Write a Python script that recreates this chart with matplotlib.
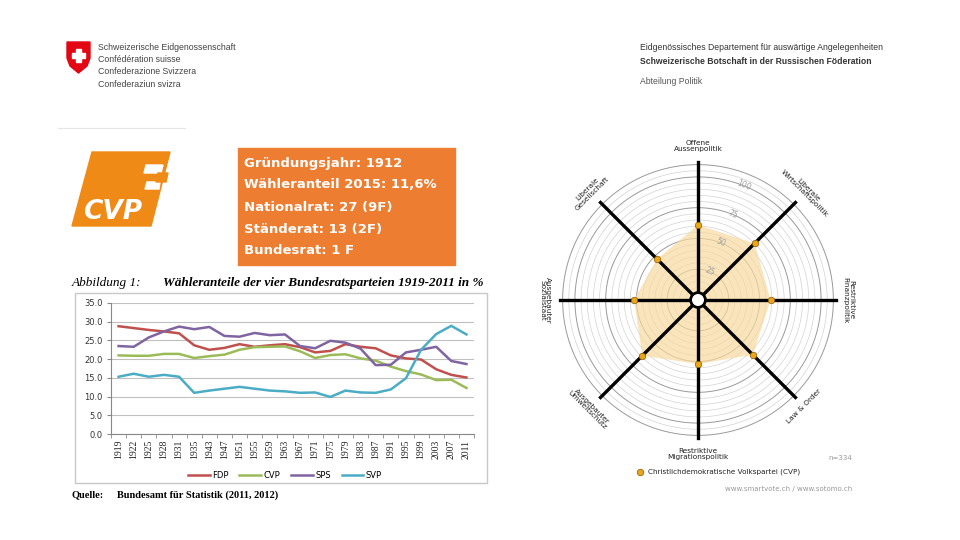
import numpy as np
import matplotlib
matplotlib.use("Agg")
import matplotlib.pyplot as plt
from matplotlib.patches import Polygon, Rectangle, Circle

# --- Daten: Wähleranteile 1919-2011 (%) ---
jahre = ["1919", "1922", "1925", "1928", "1931", "1935", "1943", "1947", "1951", "1955",
         "1959", "1963", "1967", "1971", "1975", "1979", "1983", "1987", "1991", "1995",
         "1999", "2003", "2007", "2011"]
fdp = [28.8, 28.3, 27.8, 27.4, 26.9, 23.7, 22.5, 23.0, 24.0, 23.3, 23.7, 24.0,
       23.2, 21.8, 22.2, 24.0, 23.3, 22.9, 21.0, 20.2, 19.9, 17.3, 15.8, 15.1]
cvp = [21.0, 20.9, 20.9, 21.4, 21.4, 20.3, 20.8, 21.2, 22.5, 23.2, 23.3, 23.4,
       22.1, 20.3, 21.1, 21.3, 20.2, 19.6, 18.0, 16.8, 15.9, 14.4, 14.5, 12.3]
sps = [23.5, 23.3, 25.8, 27.4, 28.7, 28.0, 28.6, 26.2, 26.0, 27.0, 26.4, 26.6,
       23.5, 22.9, 24.9, 24.4, 22.8, 18.4, 18.5, 21.8, 22.5, 23.3, 19.5, 18.7]
svp = [15.3, 16.1, 15.3, 15.8, 15.3, 11.0, 11.6, 12.1, 12.6, 12.1, 11.6, 11.4,
       11.0, 11.1, 9.9, 11.6, 11.1, 11.0, 11.9, 14.9, 22.5, 26.7, 28.9, 26.6]
parteien = ["FDP", "CVP", "SPS", "SVP"]
farben = ["#C0504D", "#9BBB59", "#8064A2", "#4BACC6"]

# --- Daten: smartspider CVP ---
achsen = ["Offene\nAussenpolitik", "Liberale\nWirtschaftspolitik", "Restriktive\nFinanzpolitik",
          "Law & Order", "Restriktive\nMigrationspolitik", "Ausgebauter\nUmweltschutz",
          "Ausgebauter\nSozialstaat", "Liberale\nGesellschaft"]
cvp_spider = [61, 65, 59, 63, 52, 64, 52, 47]

# --- Infobox ---
info = ["Gründungsjahr: 1912", "Wähleranteil 2015: 11,6%", "Nationalrat: 27 (9F)",
        "Ständerat: 13 (2F)", "Bundesrat: 1 F"]

W, H = 960, 540
fig = plt.figure(figsize=(9.6, 5.4), dpi=100)
fig.patch.set_facecolor("white")

def fx(x):
    return x / W

def fy(y):
    return 1 - y / H

# Hintergrund-Achse in Pixelkoordinaten
bg = fig.add_axes([0, 0, 1, 1])
bg.set_xlim(0, W)
bg.set_ylim(H, 0)
bg.axis("off")

# Schweizer Wappen
schild = [(67, 42), (90, 42), (90, 58), (87, 66), (78.5, 73), (70, 66), (67, 58)]
bg.add_patch(Polygon(schild, closed=True, color="#E30613"))
bg.add_patch(Rectangle((76.3, 49), 4.4, 13, color="white"))
bg.add_patch(Rectangle((72, 53.3), 13, 4.4, color="white"))
kopf = ["Schweizerische Eidgenossenschaft", "Confédération suisse",
        "Confederazione Svizzera", "Confederaziun svizra"]
for i, t in enumerate(kopf):
    bg.text(98, 47 + i * 12.4, t, fontsize=6.3, family="Liberation Sans",
            color="#444444", va="center")

bg.text(640, 47, "Eidgenössisches Departement für auswärtige Angelegenheiten",
        fontsize=6.2, family="Liberation Sans", color="#333333", va="center")
bg.text(640, 61, "Schweizerische Botschaft in der Russischen Föderation",
        fontsize=6.2, family="Liberation Sans", weight="bold", color="#333333", va="center")
bg.text(640, 81, "Abteilung Politik", fontsize=6.2, family="Liberation Sans",
        color="#555555", va="center")
bg.plot([58, 185], [128, 128], color="#e6e6e6", lw=0.8)

# CVP Logo
orange = "#EF8A17"
bg.add_patch(Polygon([(72, 226), (92, 152), (170, 152), (151, 226)], closed=True, color=orange))
bg.add_patch(Polygon([(146, 165), (163, 165), (161, 173), (144, 173)], closed=True, color="white"))
bg.add_patch(Polygon([(147, 182), (160, 182), (159, 189), (145, 189)], closed=True, color="white"))
bg.add_patch(Polygon([(158, 173), (168, 173), (166, 182), (156, 182)], closed=True, color=orange))
bg.text(113, 212, "CVP", color="white", fontsize=19, weight="bold", style="italic",
        ha="center", va="center", family="DejaVu Sans")

# Infobox
bg.add_patch(Rectangle((238, 148), 217, 117, color="#ED7D31"))
for i, t in enumerate(info):
    bg.text(244, 163 + i * 22, t, color="white", fontsize=9.5, weight="bold",
            family="DejaVu Sans", va="center")

# --- Liniendiagramm ---
bg.add_patch(Rectangle((75, 293), 412, 190, fill=False, ec="#c8c8c8", lw=1))
bg.text(72, 283, "Abbildung 1:", fontsize=9.5, style="italic", family="Liberation Serif",
        va="center")
bg.text(163, 283, "Wähleranteile der vier Bundesratsparteien 1919-2011 in %", fontsize=9.5,
        style="italic", weight="bold", family="Liberation Serif", va="center")
bg.text(72, 495, "Quelle:", fontsize=7.5, weight="bold", family="Liberation Serif", va="center")
bg.text(117, 495, "Bundesamt für Statistik (2011, 2012)", fontsize=7.5, weight="bold",
        family="Liberation Serif", va="center")

ax = fig.add_axes([fx(111), fy(434), (474 - 111) / W, (434 - 303) / H])
x = np.arange(len(jahre))
for name, werte, c in zip(parteien, [fdp, cvp, sps, svp], farben):
    ax.plot(x, werte, color=c, lw=1.8, label=name)
ax.set_xlim(-0.5, len(jahre) - 0.5)
ax.set_ylim(0, 35)
ax.set_yticks(np.arange(0, 35.1, 5))
ax.set_yticklabels([f"{v:.1f}" for v in np.arange(0, 35.1, 5)], fontsize=6, color="#333333")
ax.set_xticks(x)
ax.set_xticklabels(jahre, rotation=90, fontsize=7, family="Liberation Serif", color="#222222")
ax.set_xticks(np.arange(-0.5, len(jahre)), minor=True)
ax.tick_params(axis="x", which="major", length=0, pad=4)
ax.tick_params(axis="x", which="minor", length=3, color="#888888")
ax.tick_params(axis="y", length=3, color="#888888", pad=3)
ax.grid(axis="y", color="#c0c0c0", lw=0.8)
ax.set_axisbelow(True)
for s in ["top", "right"]:
    ax.spines[s].set_visible(False)
ax.spines["left"].set_color("#888888")
ax.spines["bottom"].set_color("#888888")
ax.legend(loc="center", bbox_to_anchor=(fx(285), fy(475)), bbox_transform=fig.transFigure,
          ncol=4, frameon=False, fontsize=6, handlelength=2.6, columnspacing=1.3,
          handletextpad=0.3)

# --- Smartspider ---
cx, cy = 698, 300
halb = 160
rad = fig.add_axes([fx(cx - halb), fy(cy + halb), 2 * halb / W, 2 * halb / H])
rad.set_xlim(-130, 130)
rad.set_ylim(-130, 130)
rad.set_aspect("equal")
rad.axis("off")

t = np.linspace(0, 2 * np.pi, 300)
for r in range(5, 111, 5):
    dunkel = r % 25 == 0 or r == 110
    rad.plot(r * np.cos(t), r * np.sin(t), color="#9a9a9a" if dunkel else "#d2d2d2",
             lw=0.7 if dunkel else 0.5, zorder=1)

winkel = np.deg2rad([90, 45, 0, -45, -90, -135, 180, 135])
px = np.array(cvp_spider) * np.cos(winkel)
py = np.array(cvp_spider) * np.sin(winkel)
rad.fill(px, py, color="#F8D9A0", alpha=0.7, lw=0, zorder=2)

for w in winkel:
    rad.plot([0, 112 * np.cos(w)], [0, 112 * np.sin(w)], color="black", lw=2.4, zorder=3)
rad.add_patch(Circle((0, 0), 6, fc="white", ec="black", lw=2, zorder=5))
rad.scatter(px, py, s=22, color="#E9A61C", edgecolor="#8a5a00", lw=0.5, zorder=6)

for v in [25, 50, 75, 100]:
    a = np.deg2rad(68)
    rad.text(v * np.cos(a), v * np.sin(a), str(v), color="#a0a0a0", fontsize=5.5,
             rotation=-22, ha="center", va="center", zorder=4)

label_pos = [(0, 125, 0), (88, 88, -45), (122, 0, -90), (86, -86, 45),
             (0, -125, 0), (-88, -88, -45), (-124, 0, -90), (-88, 88, 45)]
for name, (lx, ly, rot) in zip(achsen, label_pos):
    rad.text(lx, ly, name, fontsize=5.3, rotation=rot, ha="center", va="center",
             linespacing=1.0, color="#222222")

bg.scatter([640], [472], s=22, color="#E9A61C", edgecolor="#8a5a00", lw=0.5)
bg.text(648, 472, "Christlichdemokratische Volkspartei (CVP)", fontsize=5.2,
        va="center", color="#222222")
bg.text(852, 458, "n=334", fontsize=5, ha="right", va="center", color="#999999")
bg.text(852, 489, "www.smartvote.ch / www.sotomo.ch", fontsize=5, ha="right",
        va="center", color="#999999")

fig.savefig("out.png", dpi=100)
